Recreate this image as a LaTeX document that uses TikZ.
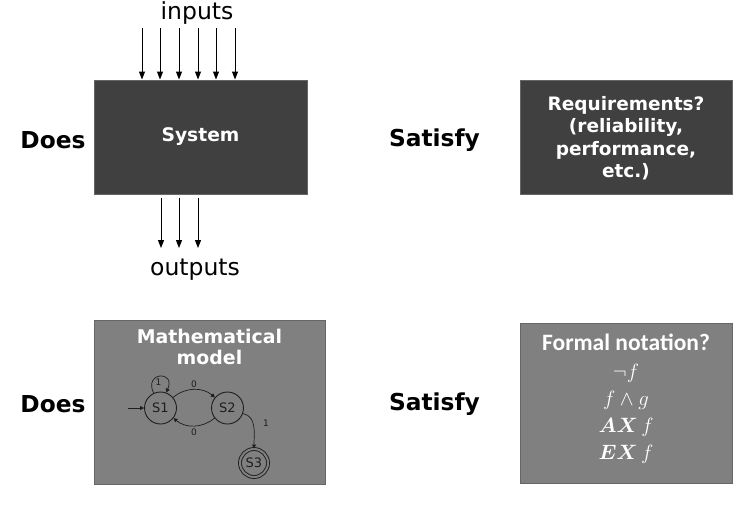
\documentclass[tikz,border=0pt]{standalone}
\usepackage{fontspec}
\usepackage{amsmath}
\setmainfont{DejaVu Sans}
\newfontfamily\carlito{Carlito}
\usetikzlibrary{arrows.meta}
\definecolor{darkbox}{HTML}{404040}
\definecolor{graybox}{HTML}{808080}
\definecolor{boxline}{HTML}{666666}
\definecolor{autline}{HTML}{1E1E1E}
\tikzset{
  px/.style={x=1pt,y=1pt},
  darkrect/.style={draw=boxline,line width=1pt,fill=darkbox,inner sep=0pt},
  grayrect/.style={draw=boxline,line width=1pt,fill=graybox,inner sep=0pt},
  sideword/.style={font=\fontsize{23.3}{27}\selectfont\bfseries,text=black},
  ioword/.style={font=\fontsize{23.5}{27}\selectfont,text=black},
  ioarrow/.style={draw=black,line width=1pt,-{Triangle[length=8pt,width=6pt]}},
  state/.style={circle,draw=autline,line width=0.9pt,minimum size=32pt,inner sep=0pt,font=\fontsize{13}{15}\selectfont,text=autline},
  aedge/.style={draw=autline,line width=0.7pt,-{Triangle[length=4pt,width=4pt]}},
  elab/.style={font=\fontsize{9}{10}\selectfont,text=autline,inner sep=1pt},
  mathline/.style={font=\fontsize{22.5}{26}\selectfont,text=white,inner sep=0pt},
}
\begin{document}
\begin{tikzpicture}[px]
\useasboundingbox (0,0) rectangle (752,-506);
% top row
\node[darkrect,minimum width=213pt,minimum height=114pt] (sys) at (200.5,-137) {};
\node[font=\fontsize{18.7}{22}\selectfont\bfseries,text=white] (systxt) at (200.5,-137) {System};
\node[ioword] (inp) at (197,-13) {inputs};
\node[ioword] (outp) at (195,-270) {outputs};
\foreach \i/\x in {1/142,2/160,3/179,4/198,5/216,6/235}{
  \coordinate (in\i) at (\x,-28);
  \draw[ioarrow] (in\i) -- (in\i |- sys.north);
}
\foreach \i/\x in {1/161,2/179,3/198}{
  \coordinate (out\i) at (\x,-248);
  \draw[ioarrow] (out\i |- sys.south) ++(0,-3pt) -- (out\i);
}
\node[sideword] (does1) at (53,-140) {Does};
\node[sideword] (sat1) at (434.5,-140) {Satisfy};
\node[darkrect,minimum width=212pt,minimum height=114pt] (req) at (626,-137) {};
\node[font=\fontsize{18.5}{22.5}\selectfont\bfseries,text=white,align=center] (reqtxt) at (626,-138)
  {Requirements?\\(reliability,\\performance,\\etc.)};
% bottom row
\node[grayrect,minimum width=231pt,minimum height=164pt] (model) at (209.5,-402) {};
\node[font=\fontsize{18.9}{21}\selectfont\bfseries,text=white,align=center] (modeltxt) at (209.5,-347)
  {Mathematical\\model};
\node[state] (s1) at (160.5,-408) {S1};
\node[state] (s2) at (227.5,-408) {S2};
\node[state,double=graybox,double distance=2pt,minimum size=28pt] (s3) at (254,-463) {S3};
\coordinate (init) at (128,-408);
\draw[aedge] (init) -- (s1.west);
\draw[aedge] (s1.115) .. controls +(-10,22) and +(10,22) .. (s1.70);
\node[elab] (l1) at (158.5,-382) {1};
\draw[aedge] (s1.40) to[bend left=40] (s2.140);
\node[elab] (l0a) at (194,-384) {0};
\draw[aedge] (s2.218) to[bend left=40] (s1.-38);
\node[elab] (l0b) at (194,-432) {0};
\draw[aedge] (s2.-20) to[out=-10,in=90] (s3.north);
\node[elab] (l1b) at (266,-423) {1};
\node[sideword] (does2) at (53,-404) {Does};
\node[sideword] (sat2) at (434.5,-404) {Satisfy};
\node[grayrect,minimum width=212pt,minimum height=160pt] (formal) at (626,-403) {};
\node[font=\carlito\fontsize{23.5}{26}\selectfont\bfseries,text=white,inner sep=0pt] (ftitle) at (626,-342) {Formal notation?};
\node[mathline] (m1) at (626,-373) {$\neg f$};
\node[mathline] (m2) at (626,-400) {$f\wedge g$};
\node[mathline] (m3) at (626,-427) {$\boldsymbol{AX}\,f$};
\node[mathline] (m4) at (626,-454) {$\boldsymbol{EX}\,f$};
\end{tikzpicture}
\end{document}
